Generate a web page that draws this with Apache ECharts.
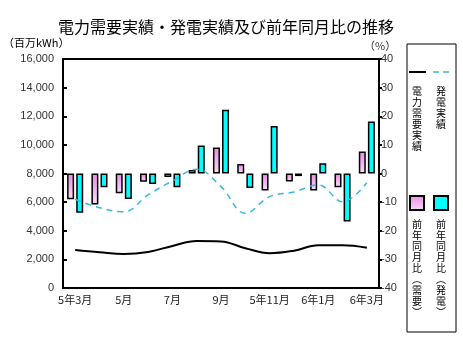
<!DOCTYPE html>
<html><head><meta charset="utf-8">
<script src="https://cdn.jsdelivr.net/npm/echarts@6/dist/echarts.min.js"></script>
<style>html,body{margin:0;padding:0;background:#fff}#c{width:463px;height:349px}</style>
</head><body><div id="c"></div>
<script>
const categories = ['5年3月','4月','5月','6月','7月','8月','9月','10月','5年11月','12月','6年1月','2月','6年3月'];
const demand = [2650, 2500, 2380, 2520, 2940, 3280, 3250, 2780, 2430, 2610, 2990, 2990, 2820];
const generation = [6200, 5610, 5330, 6500, 7480, 8290, 7080, 5230, 6380, 6710, 7200, 6030, 7350];
const demandYoY = [-9.0, -10.8, -6.9, -2.9, -1.2, 1.2, 9.1, 3.3, -5.9, -2.8, -5.9, -4.8, 7.7];
const genYoY = [-13.7, -4.8, -8.9, -3.7, -4.8, 9.8, 22.3, -5.1, 16.6, -0.9, 3.6, -16.8, 18.2];
const leftTicks = {min: 0, max: 16000, interval: 2000};
const rightTicks = {min: -40, max: 40, interval: 10};

const JP = '"Noto Sans CJK JP", sans-serif';
const NUM = '"Liberation Sans", Arial, sans-serif';
function pinkGrad() {
  return new echarts.graphic.LinearGradient(0, 0, 0, 1, [
    {offset: 0, color: '#e98ae6'}, {offset: 1, color: '#f9dcf7'}]);
}
const cyan = '#00ffff';
const dashColor = '#33bbdd';

function vert(s) { return s.split('').join('\n'); }

const chart = echarts.init(document.getElementById('c'), null, {renderer: 'canvas'});
chart.setOption({
  animation: false,
  backgroundColor: '#fff',
  title: {
    text: '電力需要実績・発電実績及び前年同月比の推移',
    left: 221, top: 14, textAlign: 'center',
    textStyle: {fontFamily: JP, fontSize: 16, fontWeight: 'normal', color: '#000'}
  },
  grid: {left: 63, right: 84, top: 59, bottom: 61},
  xAxis: {
    type: 'category', data: categories, boundaryGap: true,
    axisLine: {lineStyle: {color: '#000', width: 2}},
    axisTick: {alignWithLabel: true, length: 4, lineStyle: {color: '#000', width: 2}},
    axisLabel: {interval: 1, fontFamily: JP, fontSize: 11, color: '#222', margin: 6}
  },
  yAxis: [
    {
      type: 'value', min: leftTicks.min, max: leftTicks.max, interval: leftTicks.interval,
      axisLine: {show: true, lineStyle: {color: '#000', width: 2}},
      axisTick: {show: true, inside: true, length: 4, lineStyle: {color: '#000', width: 2}},
      splitLine: {show: false},
      axisLabel: {fontFamily: NUM, fontSize: 11, color: '#333', margin: 9,
        formatter: v => v.toLocaleString('en-US')}
    },
    {
      type: 'value', min: rightTicks.min, max: rightTicks.max, interval: rightTicks.interval,
      position: 'right',
      axisLine: {show: true, lineStyle: {color: '#000', width: 2}},
      axisTick: {show: true, length: 3, lineStyle: {color: '#000', width: 2}},
      splitLine: {show: false},
      axisLabel: {fontFamily: NUM, fontSize: 11, color: '#333', margin: 2}
    }
  ],
  series: [
    {
      name: '前年同月比（需要）', type: 'bar', yAxisIndex: 1, data: demandYoY,
      barWidth: 7, barGap: '30%',
      itemStyle: {color: pinkGrad(), borderColor: '#000', borderWidth: 1.5},
      z: 2
    },
    {
      name: '前年同月比（発電）', type: 'bar', yAxisIndex: 1, data: genYoY,
      barWidth: 7,
      itemStyle: {color: cyan, borderColor: '#000', borderWidth: 1.5},
      z: 2
    },
    {
      name: '電力需要実績', type: 'line', yAxisIndex: 0, data: demand,
      smooth: 0.4, symbol: 'none',
      lineStyle: {color: '#000', width: 2}, z: 3
    },
    {
      name: '発電実績', type: 'line', yAxisIndex: 0, data: generation,
      smooth: 0.4, symbol: 'none',
      lineStyle: {color: dashColor, width: 1.5, type: [6, 5]}, z: 3
    }
  ],
  graphic: [
    {type: 'line', shape: {x1: 62, y1: 59, x2: 380, y2: 59}, style: {stroke: '#000', lineWidth: 2}, z: 10},
    {type: 'text', left: 3, top: 37, style: {text: '（百万kWh）', font: '11px ' + JP, fill: '#000'}},
    {type: 'text', left: 364, top: 40, style: {text: '（%）', font: '11px ' + JP, fill: '#333'}},
    {type: 'rect', shape: {x: 407, y: 44, width: 49, height: 288}, style: {fill: '#fff', stroke: '#000', lineWidth: 1}},
    {type: 'line', shape: {x1: 409, y1: 72, x2: 426, y2: 72}, style: {stroke: '#000', lineWidth: 2}},
    {type: 'line', shape: {x1: 433, y1: 72, x2: 450, y2: 72}, style: {stroke: dashColor, lineWidth: 1.5, lineDash: [6, 4]}},
    {type: 'text', x: 417, y: 86, style: {text: vert('電力需要実績'), font: '10px ' + JP, lineHeight: 11, fill: '#000', align: 'center'}},
    {type: 'text', x: 441, y: 86, style: {text: vert('発電実績'), font: '10px ' + JP, lineHeight: 11, fill: '#000', align: 'center'}},
    {type: 'rect', shape: {x: 410, y: 196, width: 14, height: 14}, style: {fill: pinkGrad(), stroke: '#000', lineWidth: 2}},
    {type: 'rect', shape: {x: 434, y: 196, width: 14, height: 14}, style: {fill: cyan, stroke: '#000', lineWidth: 2}},
    {type: 'text', x: 417, y: 219, style: {text: '前\n年\n同\n月\n比\n︵\n需\n要\n︶', font: '10px ' + JP, lineHeight: 11, fill: '#000', align: 'center'}},
    {type: 'text', x: 441, y: 219, style: {text: '前\n年\n同\n月\n比\n︵\n発\n電\n︶', font: '10px ' + JP, lineHeight: 11, fill: '#000', align: 'center'}}
  ]
});
</script>
</body></html>
